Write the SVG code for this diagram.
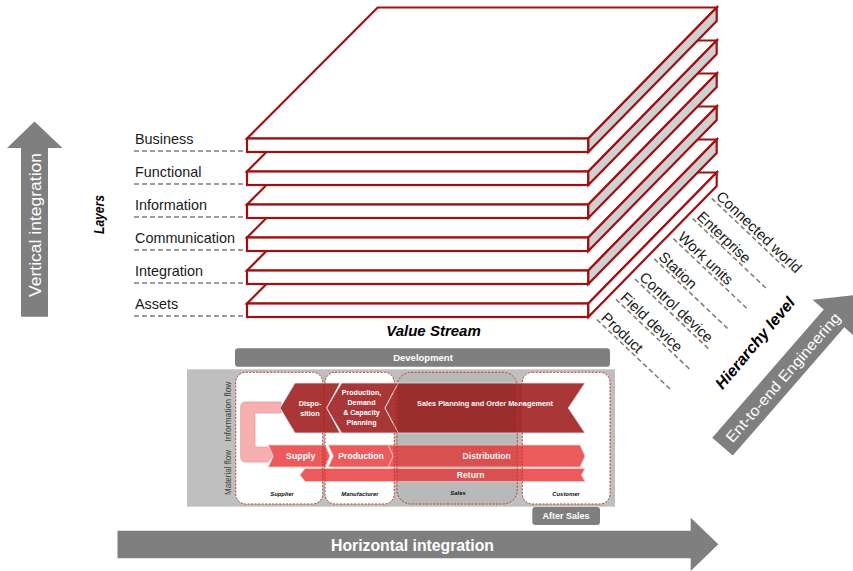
<svg xmlns="http://www.w3.org/2000/svg" width="853" height="571" viewBox="0 0 853 571">
<style>
text{font-family:"Liberation Sans",Arial,sans-serif}
.slab{stroke:#a01010;stroke-width:2.2;stroke-linejoin:miter}
.top{fill:#ffffff}
.side{fill:#d0d0d0}
.lbl{font-size:14.4px;fill:#1a1a1a}
.hl{font-size:14.8px;fill:#1a1a1a}
.dash{stroke:#7f7f7f;stroke-width:1.6;stroke-dasharray:5 3;fill:none}
.garrow{fill:#7f7f7f}
.wt{fill:#ffffff}
.bi{font-weight:bold;font-style:italic;fill:#000}
.box{fill:#ffffff}
.boxline{fill:none;stroke:#c0392b;stroke-width:1;stroke-dasharray:2 1.5}
.info{fill:#9e1b1b;fill-opacity:0.88;stroke:#dfe7f0;stroke-width:0.8}
.mat{fill:#e83e3e;fill-opacity:0.85;stroke:#f8c8c8;stroke-width:0.8}
.ct{fill:#ffffff;font-weight:bold;text-anchor:middle}
.sub{font-size:5.9px;font-weight:bold;font-style:italic;fill:#111;text-anchor:middle}
.flow{font-size:8.4px;fill:#404040;text-anchor:middle}
</style>

<!-- Vertical integration arrow -->
<g id="vertical-integration">
<polygon class="garrow" points="21,316.7 21,148 7,148 34.5,121.5 62.5,148 48,148 48,316.7"/>
<text class="wt" transform="translate(40.5,225) rotate(-90)" text-anchor="middle" font-size="16" textLength="144" lengthAdjust="spacingAndGlyphs">Vertical integration</text>
</g>

<g id="layers-title"><text class="bi" transform="translate(104,214.5) rotate(-90)" text-anchor="middle" font-size="14.5" textLength="39" lengthAdjust="spacingAndGlyphs">Layers</text></g>

<!-- Slabs, bottom to top -->
<g id="slab-assets" class="slab">
<polygon class="top" points="247,303.5 377.7,172.5 716.7,172.5 588.3,303.5"/>
<rect class="top" x="247" y="303.5" width="341.3" height="13.5"/>
<polygon class="top" points="588.3,303.5 716.7,172.5 716.7,186 588.3,317"/>
</g>
<g id="slab-integration" class="slab">
<polygon class="top" points="247,270.5 377.7,139.5 716.7,139.5 588.3,270.5"/>
<rect class="top" x="247" y="270.5" width="341.3" height="13.5"/>
<polygon class="side" points="588.3,270.5 716.7,139.5 716.7,153 588.3,284"/>
</g>
<g id="slab-communication" class="slab">
<polygon class="top" points="247,237.5 377.7,106.5 716.7,106.5 588.3,237.5"/>
<rect class="top" x="247" y="237.5" width="341.3" height="13.5"/>
<polygon class="side" points="588.3,237.5 716.7,106.5 716.7,120 588.3,251"/>
</g>
<g id="slab-information" class="slab">
<polygon class="top" points="247,204.5 377.7,73.5 716.7,73.5 588.3,204.5"/>
<rect class="top" x="247" y="204.5" width="341.3" height="13.5"/>
<polygon class="side" points="588.3,204.5 716.7,73.5 716.7,87 588.3,218"/>
</g>
<g id="slab-functional" class="slab">
<polygon class="top" points="247,171.5 377.7,40.5 716.7,40.5 588.3,171.5"/>
<rect class="top" x="247" y="171.5" width="341.3" height="13.5"/>
<polygon class="side" points="588.3,171.5 716.7,40.5 716.7,54 588.3,185"/>
</g>
<g id="slab-business" class="slab">
<polygon class="top" points="247,138.5 377.7,7.5 716.7,7.5 588.3,138.5"/>
<rect class="top" x="247" y="138.5" width="341.3" height="13.5"/>
<polygon class="side" points="588.3,138.5 716.7,7.5 716.7,21 588.3,152"/>
</g>

<!-- Layer labels -->
<g id="label-business"><text class="lbl" x="135" y="143.5">Business</text><line class="dash" x1="134" y1="151" x2="244" y2="151"/></g>
<g id="label-functional"><text class="lbl" x="135" y="176.5">Functional</text><line class="dash" x1="134" y1="184" x2="244" y2="184"/></g>
<g id="label-information"><text class="lbl" x="135" y="209.5">Information</text><line class="dash" x1="134" y1="217" x2="244" y2="217"/></g>
<g id="label-communication"><text class="lbl" x="135" y="242.5">Communication</text><line class="dash" x1="134" y1="250" x2="244" y2="250"/></g>
<g id="label-integration"><text class="lbl" x="135" y="275.5">Integration</text><line class="dash" x1="134" y1="283" x2="244" y2="283"/></g>
<g id="label-assets"><text class="lbl" x="135" y="308.5">Assets</text><line class="dash" x1="134" y1="316" x2="244" y2="316"/></g>

<g id="value-stream"><text class="bi" x="433.5" y="336" text-anchor="middle" font-size="15">Value Stream</text></g>

<!-- Hierarchy labels -->
<g id="h-connected-world" transform="translate(711.7,198.3) rotate(43.5)"><line class="dash" x1="0" y1="0" x2="102" y2="0"/><text class="hl" x="2" y="-3">Connected world</text></g>
<g id="h-enterprise" transform="translate(692.6,218.5) rotate(43.5)"><line class="dash" x1="0" y1="0" x2="102" y2="0"/><text class="hl" x="2" y="-3">Enterprise</text></g>
<g id="h-work-units" transform="translate(673.4,238.7) rotate(43.5)"><line class="dash" x1="0" y1="0" x2="102" y2="0"/><text class="hl" x="2" y="-3">Work units</text></g>
<g id="h-station" transform="translate(654.3,258.9) rotate(43.5)"><line class="dash" x1="0" y1="0" x2="102" y2="0"/><text class="hl" x="2" y="-3">Station</text></g>
<g id="h-control-device" transform="translate(635.1,279.1) rotate(43.5)"><line class="dash" x1="0" y1="0" x2="102" y2="0"/><text class="hl" x="2" y="-3">Control device</text></g>
<g id="h-field-device" transform="translate(616,299.3) rotate(43.5)"><line class="dash" x1="0" y1="0" x2="102" y2="0"/><text class="hl" x="2" y="-3">Field device</text></g>
<g id="h-product" transform="translate(596.8,319.5) rotate(43.5)"><line class="dash" x1="0" y1="0" x2="102" y2="0"/><text class="hl" x="2" y="-3">Product</text></g>

<g id="hierarchy-level"><text class="bi" transform="translate(755,343) rotate(-50)" y="5.5" text-anchor="middle" font-size="16">Hierarchy level</text></g>

<!-- End-to-end arrow -->
<g id="ent-to-end" transform="translate(722.5,446.7) rotate(-49)">
<polygon class="garrow" points="0,-13.6 170,-13.6 170,-28.5 201,0 170,28.5 170,13.6 0,13.6"/>
<text class="wt" x="92" y="5.5" text-anchor="middle" font-size="15" textLength="166" lengthAdjust="spacingAndGlyphs">Ent-to-end Engineering</text>
</g>

<!-- Bottom value chain inset -->
<g id="development"><rect x="235" y="348.3" width="375" height="18.4" rx="3" fill="#7f7f7f"/><text class="ct" x="423" y="360.8" font-size="9.5" fill="#f2f2f2">Development</text></g>
<g id="panel"><rect x="187" y="369.3" width="428" height="137.4" fill="#bfbfbf"/></g>
<g id="box-fills">
<rect class="box" x="235.7" y="372.3" width="87" height="131.7" rx="10"/>
<rect class="box" x="325" y="372.3" width="69.3" height="131.7" rx="10"/>
<rect class="box" x="522.3" y="372.3" width="87.7" height="131.7" rx="10"/>
</g>
<g id="flow-labels">
<text class="flow" transform="translate(230.5,411.5) rotate(-90)" textLength="60" lengthAdjust="spacingAndGlyphs">Information flow</text>
<text class="flow" transform="translate(230.5,472.5) rotate(-90)" textLength="45" lengthAdjust="spacingAndGlyphs">Material flow</text>
</g>
<g id="return-loop"><path d="M245.5,402 H281 V413 H255 V447 H268 L273.5,454.5 L268,462 H245.5 Q240.7,462 240.7,457 V407 Q240.7,402 245.5,402 Z" fill="#f7b0b0" stroke="#e99a9a" stroke-width="0.8"/></g>

<g id="chev-disposition"><polygon class="info" points="280,408 295,383 340,383 326.7,408 340,433 295,433"/>
<text class="ct" x="310" y="405.8" font-size="7.3">Dispo-</text><text class="ct" x="310" y="415.8" font-size="7.3">sition</text></g>
<g id="chev-production-planning"><polygon class="info" points="326.7,408 341.7,383 398.3,383 385,408 398.3,433 341.7,433"/>
<text class="ct" x="361.5" y="394.8" font-size="7.1">Production,</text><text class="ct" x="361.5" y="404.6" font-size="7.1">Demand</text><text class="ct" x="361.5" y="414.6" font-size="7.1">&amp; Capacity</text><text class="ct" x="361.5" y="424.8" font-size="7.1">Planning</text></g>
<g id="chev-sales-planning"><polygon class="info" points="385,408 398.3,383 585,383 568.3,408 585,433 398.3,433"/>
<text class="ct" x="485" y="405.8" font-size="7.4" textLength="136" lengthAdjust="spacingAndGlyphs">Sales Planning and Order Management</text></g>

<g id="chev-supply"><polygon class="mat" points="268.3,445 325,445 330,456 325,467 268.3,467 273.3,456"/><text class="ct" x="300.7" y="459.2" font-size="8.8">Supply</text></g>
<g id="chev-production"><polygon class="mat" points="328.3,445 388.3,445 393.3,456 388.3,467 328.3,467 333.3,456"/><text class="ct" x="361" y="459.2" font-size="8.6">Production</text></g>
<g id="chev-distribution"><polygon class="mat" points="388.3,445 580,445 585,456 580,467 388.3,467 393.3,456"/><text class="ct" x="486.7" y="459.2" font-size="8.6">Distribution</text></g>
<g id="chev-return"><polygon class="mat" points="300,475 305,468.5 585,468.5 581.5,475 585,481.5 305,481.5"/><text class="ct" x="470.7" y="478.2" font-size="8.6">Return</text></g>

<g id="stakeholders">
<rect x="397" y="372.3" width="120.3" height="131.7" rx="14" fill="#000" fill-opacity="0.03"/>
<rect class="boxline" x="235.7" y="372.3" width="87" height="131.7" rx="10"/>
<rect class="boxline" x="325" y="372.3" width="69.3" height="131.7" rx="10"/>
<rect class="boxline" x="397" y="372.3" width="120.3" height="131.7" rx="14"/>
<rect class="boxline" x="522.3" y="372.3" width="87.7" height="131.7" rx="10"/>
<text class="sub" x="282" y="495.5">Supplier</text>
<text class="sub" x="360" y="495.5">Manufacturer</text>
<text class="sub" x="458" y="495">Sales</text>
<text class="sub" x="566" y="495.5">Customer</text>
</g>

<g id="after-sales"><rect x="532.3" y="507" width="67.7" height="18" rx="3" fill="#7f7f7f"/><text class="ct" x="566" y="519" font-size="9" fill="#f2f2f2">After Sales</text></g>

<!-- Horizontal integration arrow -->
<g id="horizontal-integration">
<polygon class="garrow" points="117.5,530.7 690.7,530.7 690.7,517.7 718.3,544.3 690.7,571 690.7,558.3 117.5,558.3"/>
<text class="wt" x="412.5" y="550.5" text-anchor="middle" font-size="16" font-weight="bold" textLength="163" lengthAdjust="spacingAndGlyphs">Horizontal integration</text>
</g>
</svg>
